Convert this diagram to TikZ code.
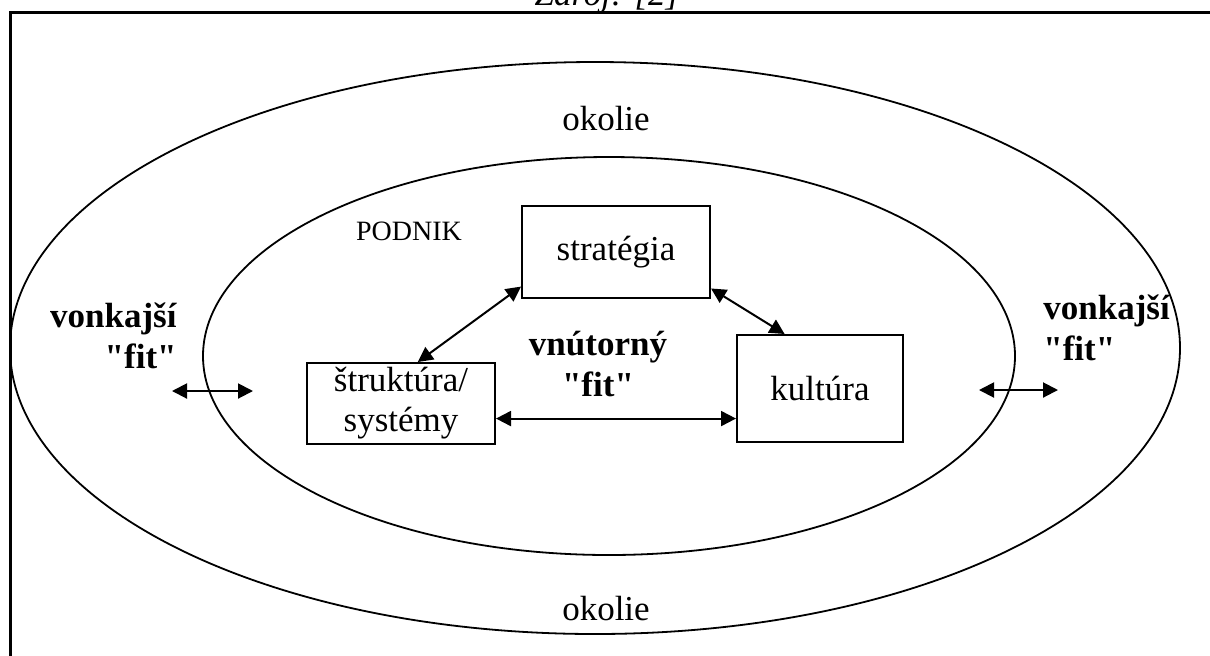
\documentclass[tikz,border=0pt]{standalone}
\usepackage{fontspec}
\setmainfont{Liberation Serif}
\usetikzlibrary{arrows.meta}

\newcommand{\ringellipse}[3]% center, xdim, ydim
    {(#1) ellipse (#2 and #3)
}

\begin{document}
\begin{tikzpicture}[x=0.5pt, y=-0.5pt,
    box/.style={draw, line width=1pt, inner sep=0pt, align=center, font=\fontsize{17.5}{20}\selectfont},
    lbl/.style={inner sep=0pt, font=\fontsize{17.5}{20}\selectfont},
    fitlbl/.style={inner sep=0pt, font=\fontsize{17.5}{20.5}\selectfont\bfseries},
    link/.style={{Triangle[length=7.5pt,width=7.5pt]}-{Triangle[length=7.5pt,width=7.5pt]}, line width=1pt}
]
    \useasboundingbox (0,0) rectangle (1210,655);
    \clip (0,0) rectangle (1210,655);

    % Frame (only top and left edge are visible) and source line
    \draw[line width=1.5pt] (10,670) -- (10,12.5) -- (1225,12.5);
    \node[lbl, font=\fontsize{17.5}{20}\selectfont\itshape, anchor=base] (src) at (607,5) {Zdroj: [2]};

    % Environment (outer ellipse) and company (inner ellipse)
    \draw[line width=0.9pt] \ringellipse{595,348}{585}{286};
    \draw[line width=0.9pt] \ringellipse{609,356}{406}{199};
    \node[lbl, anchor=base] (envtop) at (606,130) {okolie};
    \node[lbl, anchor=base] (envbot) at (606,620) {okolie};
    \node[lbl, font=\fontsize{14}{16}\selectfont, anchor=base] (firm) at (409,240) {PODNIK};

    % Nodes
    \node[box, minimum width=94pt, minimum height=46pt]   (strat) at (616,252)   {stratégia};
    \node[box, minimum width=94pt, minimum height=40.5pt] (struk) at (401,403.5) {štruktúra/\\systémy};
    \node[box, minimum width=83pt, minimum height=53.5pt] (kult)  at (820,388.5) {kultúra};

    % Fit labels
    \node[fitlbl, align=center] (fitin) at (598,364) {vnútorný\\\textquotedbl fit\textquotedbl};
    \node[fitlbl, align=right, anchor=east] (fitL) at (177,336) {vonkajší\\\textquotedbl fit\textquotedbl};
    \node[fitlbl, align=left, anchor=west]  (fitR) at (1043,328) {vonkajší\\\textquotedbl fit\textquotedbl};

    % Free ends of the outer arrows
    \coordinate (extL1) at (172,391);
    \coordinate (extL2) at (253,391);
    \coordinate (extR1) at (979,390);
    \coordinate (extR2) at (1058,390);

    % Connectors
    \draw[link] (strat.200) -- (struk.68);
    \draw[link] (strat.-21) -- (kult.123);
    \draw[link] (struk.-9) -- (struk.-9 -| kult.west);
    \draw[link] (extL1) -- (extL2);
    \draw[link] (extR1) -- (extR2);

\end{tikzpicture}
\end{document}
